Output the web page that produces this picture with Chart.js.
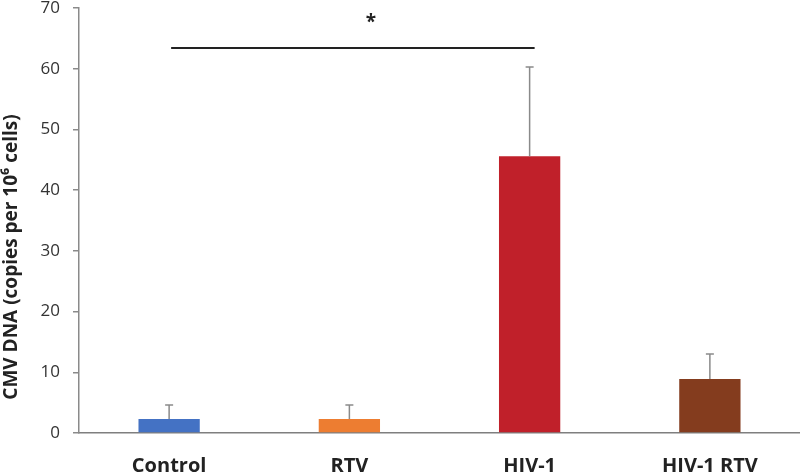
<!DOCTYPE html>
<html><head><meta charset="utf-8">
<script src="https://cdn.jsdelivr.net/npm/chart.js@4/dist/chart.umd.min.js"></script>
<style>html,body{margin:0;padding:0;background:#fff}#wrap{width:800px;height:473px}</style>
</head><body><div id="wrap"><canvas id="c"></canvas></div>
<script>
const categories = ["Control", "RTV", "HIV-1", "HIV-1 RTV"];
const means = [2.3, 2.3, 45.6, 8.9];
const errors = [2.3, 2.3, 14.7, 4.1];
const barColors = ["#4472C4", "#ED7D31", "#C0202A", "#843C1E"];
const yTicks = [0, 10, 20, 30, 40, 50, 60, 70];
const yTitle = "CMV DNA (copies per 10⁶ cells)";
const sigFrom = 0, sigTo = 2, sigLevel = 63.4, sigStarLevel = 68.3, sigStarPos = 1.12, sigLabel = "*";

const overlay = {
  id: 'overlay',
  afterDatasetsDraw(chart) {
    const ctx = chart.ctx, x = chart.scales.x, y = chart.scales.y;
    ctx.save();
    ctx.strokeStyle = '#8a8a8a'; ctx.lineWidth = 1.5;
    means.forEach((m, i) => {
      const cx = x.getPixelForValue(i);
      const y0 = y.getPixelForValue(m), y1 = y.getPixelForValue(m + errors[i]);
      ctx.beginPath(); ctx.moveTo(cx, y0); ctx.lineTo(cx, y1);
      ctx.moveTo(cx - 4, y1); ctx.lineTo(cx + 4, y1); ctx.stroke();
    });
    const xa = x.getPixelForValue(sigFrom) + 2, xb = x.getPixelForValue(sigTo) + 5;
    const ys = y.getPixelForValue(sigLevel);
    ctx.strokeStyle = '#222'; ctx.lineWidth = 2;
    ctx.beginPath(); ctx.moveTo(xa, ys); ctx.lineTo(xb, ys); ctx.stroke();
    ctx.fillStyle = '#222'; ctx.font = 'bold 19px "Open Sans"';
    ctx.textAlign = 'center'; ctx.textBaseline = 'middle';
    const sx = x.getPixelForValue(1) + (sigStarPos - 1) * (x.getPixelForValue(2) - x.getPixelForValue(1));
    ctx.fillText(sigLabel, sx, y.getPixelForValue(sigStarLevel) + 4);
    // y-axis title
    ctx.translate(12, 257); ctx.rotate(-Math.PI / 2);
    ctx.font = 'bold 19px "Open Sans"'; ctx.fillStyle = '#222';
    ctx.fillText(yTitle, 0, 0);
    ctx.restore();
  }
};

new Chart(document.getElementById('c'), {
  type: 'bar',
  data: { labels: categories, datasets: [{ data: means, backgroundColor: barColors, categoryPercentage: 1, barPercentage: 0.34 }] },
  options: {
    responsive: true, maintainAspectRatio: false, animation: false,
    layout: { padding: { top: 8, right: 0, left: 0, bottom: 0 } },
    plugins: { legend: { display: false }, tooltip: { enabled: false } },
    scales: {
      x: {
        grid: { display: false },
        border: { color: '#7f7f7f', width: 1.5 },
        ticks: { color: '#222', font: { family: 'Open Sans', size: 20, weight: 'bold' }, padding: 13, maxRotation: 0 },
        afterFit(s) { s.height = 40; s.paddingLeft = 0; s.paddingRight = 0; }
      },
      y: {
        min: 0, max: 70,
        afterBuildTicks(s) { s.ticks = yTicks.map(v => ({ value: v })); },
        grid: { drawOnChartArea: false, tickLength: 6, color: '#8a8a8a', lineWidth: 1.5 },
        border: { color: '#8a8a8a', width: 1.5 },
        ticks: { color: '#333', font: { family: 'Open Sans', size: 17 }, padding: 13 },
        afterFit(s) { s.width = 79; s.paddingTop = 0; s.paddingBottom = 0; }
      }
    }
  },
  plugins: [overlay]
});
</script></body></html>
